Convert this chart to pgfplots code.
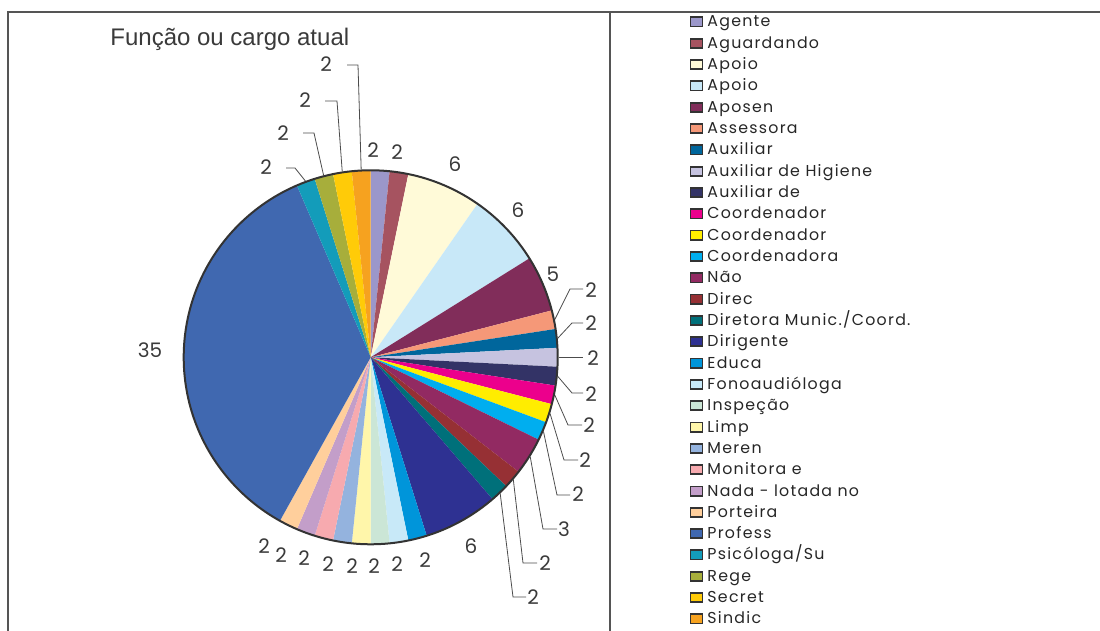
\documentclass[border=0pt]{standalone}
\usepackage{pgfplots}
\pgfplotsset{compat=1.18}
\usepackage{pgfplotstable}
\usepackage{fontspec}
\setmainfont{Liberation Sans}
\newfontfamily\gothic[LetterSpace=8]{Poppins}
\newfontfamily\lblfont{Poppins}

\definecolor{c0}{HTML}{9B97CA}
\definecolor{c1}{HTML}{A65360}
\definecolor{c2}{HTML}{FFFAD8}
\definecolor{c3}{HTML}{C8E8F8}
\definecolor{c4}{HTML}{812D5A}
\definecolor{c5}{HTML}{F59878}
\definecolor{c6}{HTML}{00669C}
\definecolor{c7}{HTML}{C6C3E0}
\definecolor{c8}{HTML}{333366}
\definecolor{c9}{HTML}{EC008C}
\definecolor{c10}{HTML}{FFED00}
\definecolor{c11}{HTML}{00AEEF}
\definecolor{c12}{HTML}{922A62}
\definecolor{c13}{HTML}{963034}
\definecolor{c14}{HTML}{00707A}
\definecolor{c15}{HTML}{2E3192}
\definecolor{c16}{HTML}{0095DA}
\definecolor{c17}{HTML}{C8E9F8}
\definecolor{c18}{HTML}{CBE6D6}
\definecolor{c19}{HTML}{FFF6AA}
\definecolor{c20}{HTML}{94B3DE}
\definecolor{c21}{HTML}{F7AAAF}
\definecolor{c22}{HTML}{C39EC9}
\definecolor{c23}{HTML}{FFCF9C}
\definecolor{c24}{HTML}{4068B0}
\definecolor{c25}{HTML}{139CBA}
\definecolor{c26}{HTML}{A7AE3B}
\definecolor{c27}{HTML}{FFCB08}
\definecolor{c28}{HTML}{F6A21F}
\definecolor{txtgray}{HTML}{3A3A3A}
\definecolor{framegray}{HTML}{555555}

% count per category; label position (lx,ly) and leader knee (kx,ky) and end hx, in pixel units
\pgfplotstableread[col sep=comma]{
name,count,lx,ly,kx,ky,hx
Agente,1,373,150,0,0,0
Aguardando,1,397,152,0,0,0
Apoio,4,455,164,0,0,0
Apoio,4,518,210,0,0,0
Aposen,3,553,274,0,0,0
Assessora,1,591,290,570,289,583
Auxiliar,1,591,323,572,323,583
Auxiliar de Higiene,1,593,358,570,357.3,583
Auxiliar de,1,591,394,572,393,583
Coordenador,1,589,425,568,425,582
Coordenador,1,585,460,564,460,578
Coordenadora,1,578,494,557,495,570
Não,2,564,529,543,529,557
Direc,1,545,563,523,563,537
Diretora Munic./Coord.,1,533,597,513,597,526
Dirigente,4,471,546,0,0,0
Educa,1,425,560,0,0,0
Fonoaudióloga,1,397,564,0,0,0
Inspeção,1,374,566,0,0,0
Limp,1,352,566,0,0,0
Meren,1,328,564,0,0,0
Monitora e,1,304,558,0,0,0
Nada - lotada no,1,281,555,0,0,0
Porteira,1,264,546,0,0,0
Profess,22,150,350,0,0,0
Psicóloga/Su,1,266,167,295,168,286
Rege,1,283,133,314,133,303
Secret,1,305,100,337,101,325
Sindic,1,326,64,358,65,347
}\piedata

\tikzset{
  lbl/.style={font=\lblfont\fontsize{10}{12}\selectfont, text=txtgray, inner sep=0pt},
  leg/.style={font=\gothic\fontsize{7.9}{9}\selectfont, text=black!85, inner sep=0pt, anchor=base west},
  leader/.style={draw=black!70, line width=0.4pt},
}

\begin{document}
\begin{tikzpicture}
\pgfplotstablegetrowsof{\piedata}
\pgfmathtruncatemacro\N{\pgfplotsretval-1}
\gdef\total{0}
\foreach \i in {0,...,\N}{%
  \pgfplotstablegetelem{\i}{count}\of\piedata
  \pgfmathsetmacro\t{\total+\pgfplotsretval}%
  \xdef\total{\t}%
}
\pgfmathsetmacro\unit{360/\total}
\pgfmathsetmacro\pctunit{100/\total}
\begin{axis}[hide axis, scale only axis, x=0.5pt, y=0.5pt,
  xmin=0, xmax=1100, ymin=0, ymax=631, clip=false]
\gdef\cum{0}
\foreach \i in {0,...,\N}{%
  \pgfplotstablegetelem{\i}{count}\of\piedata \let\v\pgfplotsretval
  \pgfmathsetmacro\sa{90-\unit*\cum}%
  \pgfmathsetmacro\ea{90-\unit*(\cum+\v)}%
  \pgfmathsetmacro\ma{(\sa+\ea)/2}%
  \pgfmathsetmacro\nc{\cum+\v}%
  \xdef\cum{\nc}%
  \pgfmathtruncatemacro\pct{round(\pctunit*\v)}%
  \pgfplotstablegetelem{\i}{lx}\of\piedata \let\lx\pgfplotsretval
  \pgfplotstablegetelem{\i}{ly}\of\piedata \let\ly\pgfplotsretval
  \pgfplotstablegetelem{\i}{kx}\of\piedata \let\kx\pgfplotsretval
  \pgfplotstablegetelem{\i}{ky}\of\piedata \let\ky\pgfplotsretval
  \pgfplotstablegetelem{\i}{hx}\of\piedata \let\hx\pgfplotsretval
  \pgfplotstablegetelem{\i}{name}\of\piedata \let\nm\pgfplotsretval
  \pgfmathsetmacro\LY{631-\ly}%
  \edef\temp{\noexpand\fill[c\i] (axis cs:370.7,273.7) -- ++(\sa:93.5pt) arc[start angle=\sa, end angle=\ea, radius=93.5pt] -- cycle;}\temp
  \edef\temp{\noexpand\node[lbl] at (axis cs:\lx,\LY) {\pct};}\temp
  \ifdim\kx pt>0pt
    \pgfmathsetmacro\KY{631-\ky}%
    \edef\temp{\noexpand\draw[leader] (axis cs:370.7,273.7) ++(\ma:94pt) -- (axis cs:\kx,\KY) -- (axis cs:\hx,\KY);}\temp
  \fi
  \pgfmathsetmacro\lgy{631-22-21.32*\i}%
  \pgfmathsetmacro\lga{\lgy-4.6}%
  \pgfmathsetmacro\lgb{\lgy+4.6}%
  \pgfmathsetmacro\lgt{\lgy-5}%
  \edef\temp{\noexpand\filldraw[fill=c\i, draw=black!80, line width=0.9pt] (axis cs:690.5,\lga) rectangle (axis cs:702.5,\lgb);}\temp
  \edef\temp{\noexpand\node[leg] at (axis cs:707,\lgt) {\nm};}\temp
}
\draw[line width=1pt, black!80] (axis cs:370.7,273.7) circle[radius=93.5pt];
% frame
\draw[framegray, line width=1pt] (axis cs:8,0) -- (axis cs:8,619) -- (axis cs:1100,619);
\draw[framegray, line width=0.8pt] (axis cs:610,619) -- (axis cs:610,0);
\node[anchor=base west, font=\fontsize{12}{14}\selectfont, text=txtgray, inner sep=0pt] at (axis cs:110,585) {Função ou cargo atual};
\coordinate (ll) at (axis cs:0,0);
\coordinate (ur) at (axis cs:1100,631);
\end{axis}
\pgfresetboundingbox
\path[use as bounding box] (ll) rectangle (ur);
\end{tikzpicture}
\end{document}
